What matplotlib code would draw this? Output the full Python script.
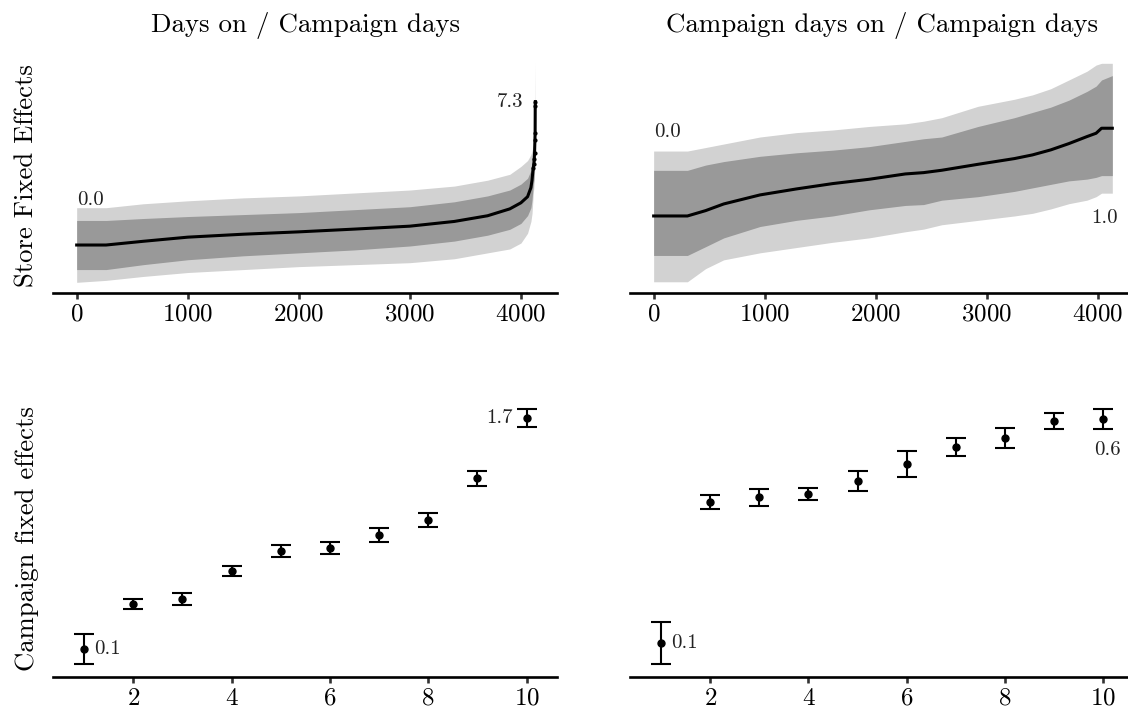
import matplotlib
matplotlib.use("Agg")
import matplotlib.pyplot as plt

plt.rcParams['font.family'] = 'serif'
plt.rcParams['font.serif'] = ['cmr10']
plt.rcParams['mathtext.fontset'] = 'cm'
plt.rcParams['axes.formatter.use_mathtext'] = True

# Store fixed effects, sorted (at a set of ranks)
days_rank = [0, 265, 600, 1000, 1500, 2000, 2500, 3000, 3400, 3700, 3900,
             4000, 4060, 4090, 4100, 4110, 4116, 4120, 4123, 4126, 4128,
             4129, 4130]
days_fe = [0.0, 0.0, 0.19, 0.40, 0.55, 0.67, 0.81, 0.96, 1.20, 1.49, 1.84,
           2.15, 2.46, 2.92, 3.3, 3.9, 4.1, 4.4, 4.7, 5.35, 5.7, 7.1, 7.3]
days_in_hi = [1.25, 1.25, 1.35, 1.45, 1.55, 1.65, 1.8, 1.95, 2.2, 2.5, 2.8,
              3.1, 3.4, 3.8, 4.0, 4.4, 4.6, 4.8, 5.1, 5.6, 6.0, 7.3, 7.5]
days_in_lo = [-1.25, -1.25, -1.0, -0.75, -0.55, -0.4, -0.25, -0.05, 0.2,
              0.5, 0.8, 1.1, 1.5, 1.9, 2.3, 3.0, 3.3, 3.6, 4.0, 4.6, 5.0,
              6.6, 6.9]
days_out_hi = [1.9, 1.9, 2.1, 2.25, 2.4, 2.5, 2.65, 2.8, 3.0, 3.3, 3.6, 4.0,
               4.3, 4.6, 4.8, 5.0, 5.2, 5.4, 5.8, 6.5, 7.5, 9.3, 8.0]
days_out_lo = [-1.9, -1.8, -1.6, -1.4, -1.25, -1.1, -1.0, -0.9, -0.7, -0.4,
               -0.2, 0.1, 0.6, 1.2, 1.6, 2.5, 2.9, 3.3, 3.7, 4.2, 4.6, 6.0,
               6.5]

camp_rank = [0, 304, 468, 631, 958, 1285, 1612, 1939, 2266, 2430, 2594, 2921,
             3248, 3411, 3575, 3739, 3902, 3984, 4033, 4130]
camp_fe = [0.0, 0.0, 0.061, 0.137, 0.240, 0.308, 0.369, 0.418, 0.479, 0.494,
           0.521, 0.589, 0.654, 0.696, 0.753, 0.825, 0.905, 0.943, 1.0, 1.0]
camp_in_hi = [0.52, 0.52, 0.58, 0.62, 0.68, 0.72, 0.75, 0.79, 0.85, 0.88,
              0.90, 1.02, 1.12, 1.18, 1.24, 1.32, 1.42, 1.48, 1.55, 1.6]
camp_in_lo = [-0.45, -0.45, -0.35, -0.25, -0.12, -0.05, 0.0, 0.07, 0.12,
              0.13, 0.18, 0.22, 0.28, 0.32, 0.36, 0.40, 0.42, 0.44, 0.46,
              0.46]
camp_out_hi = [0.74, 0.74, 0.78, 0.82, 0.90, 0.95, 0.98, 1.02, 1.05, 1.08,
               1.12, 1.25, 1.33, 1.38, 1.45, 1.55, 1.65, 1.72, 1.74, 1.74]
camp_out_lo = [-0.75, -0.75, -0.6, -0.5, -0.42, -0.36, -0.30, -0.25, -0.18,
               -0.15, -0.10, -0.05, 0.0, 0.03, 0.08, 0.14, 0.18, 0.22, 0.26,
               0.26]

# Campaign fixed effects
campaigns = [1, 2, 3, 4, 5, 6, 7, 8, 9, 10]
days_cfe = [0.1, 0.411, 0.446, 0.640, 0.778, 0.801, 0.889, 0.992, 1.281, 1.7]
days_cerr = [0.104, 0.035, 0.039, 0.033, 0.040, 0.042, 0.050, 0.047, 0.050,
             0.062]
camp_cfe = [0.1, 0.415, 0.425, 0.433, 0.462, 0.500, 0.537, 0.558, 0.596, 0.6]
camp_cerr = [0.047, 0.016, 0.018, 0.014, 0.022, 0.029, 0.020, 0.022, 0.018,
             0.023]

titles = ['Days on / Campaign days', 'Campaign days on / Campaign days']

fig = plt.figure(figsize=(11.28, 7.14), dpi=100)
ax_tl = fig.add_axes([0.047, 0.590, 0.4468, 0.3287])
ax_tr = fig.add_axes([0.5585, 0.590, 0.4468, 0.3287])
ax_bl = fig.add_axes([0.047, 0.0522, 0.4468, 0.3875])
ax_br = fig.add_axes([0.5585, 0.0522, 0.4468, 0.3875])


def style(ax):
    for s in ['left', 'right', 'top']:
        ax.spines[s].set_visible(False)
    ax.spines['bottom'].set_linewidth(1.9)
    ax.set_yticks([])
    ax.tick_params(axis='x', length=4, width=1.9, color='#333333',
                   labelsize=18, pad=4)


# top row: sorted store effects with confidence bands
for ax, r, fe, ih, il, oh, ol in [
        (ax_tl, days_rank, days_fe, days_in_hi, days_in_lo, days_out_hi,
         days_out_lo),
        (ax_tr, camp_rank, camp_fe, camp_in_hi, camp_in_lo, camp_out_hi,
         camp_out_lo)]:
    ax.fill_between(r, ol, oh, color='#d2d2d2', lw=0)
    ax.fill_between(r, il, ih, color='#999999', lw=0)
    ax.plot(r, fe, color='black', lw=2.2)
    style(ax)
    ax.set_xlim(-213, 4325)
    ax.set_xticks([0, 1000, 2000, 3000, 4000])

ax_tl.plot(days_rank[-8:], days_fe[-8:], 'o', color='black', ms=2)
ax_tl.set_ylim(-2.43, 9.52)
ax_tr.set_ylim(-0.875, 1.80)

ax_tl.set_title(titles[0], fontsize=19.4, pad=18.7)
ax_tr.set_title(titles[1], fontsize=19.4, pad=18.7)

ann = dict(textcoords='offset points', fontsize=15, color='#222222')
ax_tl.annotate('0.0', xy=(days_rank[0], days_fe[0]), xytext=(0, 29),
               ha='left', va='baseline', **ann)
ax_tl.annotate('7.3', xy=(days_rank[-1], days_fe[-1]), xytext=(-9, 0),
               ha='right', va='center', **ann)
ax_tr.annotate('0.0', xy=(camp_rank[0], camp_fe[0]), xytext=(0, 57),
               ha='left', va='baseline', **ann)
ax_tr.annotate('1.0', xy=(camp_rank[-1], camp_fe[-1]), xytext=(4, -68),
               ha='right', va='baseline', **ann)

# bottom row: campaign effects
for ax, fe, err in [(ax_bl, days_cfe, days_cerr),
                    (ax_br, camp_cfe, camp_cerr)]:
    ax.errorbar(campaigns, fe, yerr=err, fmt='o', color='black', ms=5,
                elinewidth=1.5, capsize=7, capthick=1.5)
    style(ax)
    ax.set_xlim(0.37, 10.62)
    ax.set_xticks([2, 4, 6, 8, 10])

ax_bl.set_ylim(-0.0916, 1.822)
ax_br.set_ylim(0.0248, 0.6424)

ax_bl.annotate('0.1', xy=(1, days_cfe[0]), xytext=(7, 0), ha='left',
               va='center', **ann)
ax_bl.annotate('1.7', xy=(10, days_cfe[-1]), xytext=(-10, 0), ha='right',
               va='center', **ann)
ax_br.annotate('0.1', xy=(1, camp_cfe[0]), xytext=(7, 0), ha='left',
               va='center', **ann)
ax_br.annotate('0.6', xy=(10, camp_cfe[-1]), xytext=(2.5, -16),
               ha='center', va='top', **ann)

ax_tl.set_ylabel('Store Fixed Effects', fontsize=19.2)
ax_tl.yaxis.set_label_coords(-0.028, 0.5)
ax_bl.set_ylabel('Campaign fixed effects', fontsize=19.2)
ax_bl.yaxis.set_label_coords(-0.028, 0.5)

fig.savefig('out.png', dpi=100)
plt.close(fig)
